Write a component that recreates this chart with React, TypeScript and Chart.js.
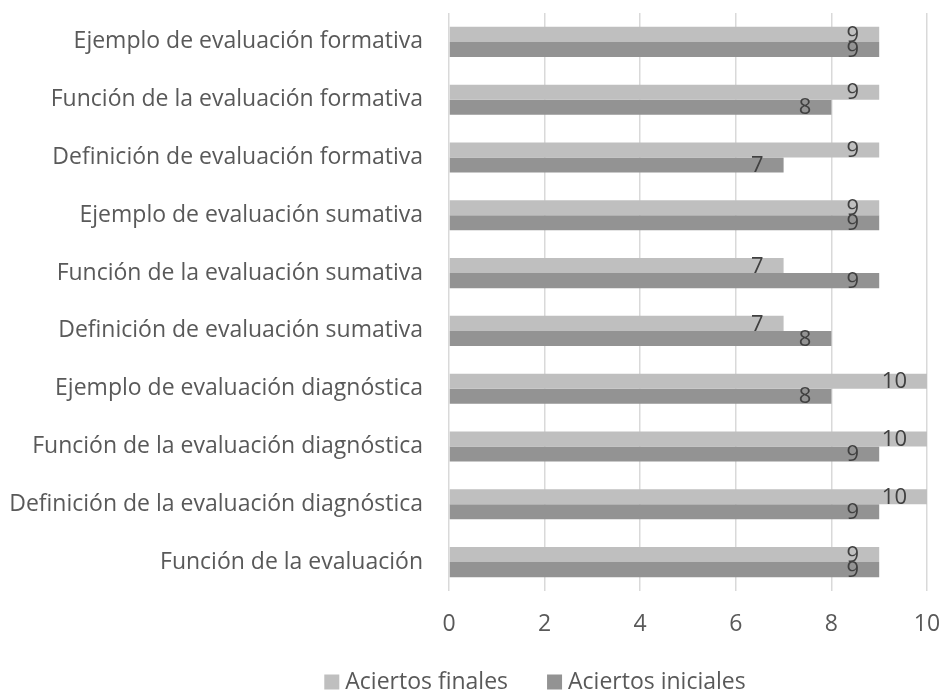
import React, { useEffect, useRef } from "react";
import { Chart, registerables } from "chart.js";

Chart.register(...registerables);

const categories = [
  "Ejemplo de evaluación formativa",
  "Función de la evaluación formativa",
  "Definición de evaluación formativa",
  "Ejemplo de evaluación sumativa",
  "Función de la evaluación sumativa",
  "Definición de evaluación sumativa",
  "Ejemplo de evaluación diagnóstica",
  "Función de la evaluación diagnóstica",
  "Definición de la evaluación diagnóstica",
  "Función de la evaluación",
];
const seriesNames = ["Aciertos finales", "Aciertos iniciales"];
const aciertosFinales = [9, 9, 9, 9, 7, 7, 10, 10, 10, 9];
const aciertosIniciales = [9, 8, 7, 9, 9, 8, 8, 9, 9, 9];
const xTicks = [0, 2, 4, 6, 8, 10];

const FONT = "'Open Sans', sans-serif";
const TEXT = "#595959";
const COLORS = ["#bfbfbf", "#939393"];

const valueLabels = {
  id: "valueLabels",
  afterDatasetsDraw(chart: any) {
    const ctx = chart.ctx;
    ctx.save();
    ctx.font = `22px ${FONT}`;
    ctx.fillStyle = "#404040";
    ctx.textAlign = "right";
    ctx.textBaseline = "middle";
    chart.data.datasets.forEach((ds: any, i: number) => {
      const meta = chart.getDatasetMeta(i);
      meta.data.forEach((el: any, j: number) => {
        ctx.fillText(String(ds.data[j]), el.x - 20, el.y + 1);
      });
    });
    ctx.restore();
  },
};

const bottomLegend = {
  id: "bottomLegend",
  afterDraw(chart: any) {
    const ctx = chart.ctx;
    ctx.save();
    ctx.font = `23px ${FONT}`;
    ctx.textBaseline = "middle";
    ctx.textAlign = "left";
    const box = 15;
    const gapBoxText = 6;
    const gapItems = 39;
    const items = chart.data.datasets.map((ds: any) => ({
      text: ds.label,
      color: ds.backgroundColor,
      w: ctx.measureText(ds.label).width,
    }));
    const total =
      items.reduce((a: number, it: any) => a + box + gapBoxText + it.w, 0) +
      gapItems * (items.length - 1);
    const cx = 535;
    const cy = 682;
    let x = cx - total / 2;
    items.forEach((it: any) => {
      ctx.fillStyle = it.color;
      ctx.fillRect(x, cy - box / 2, box, box);
      x += box + gapBoxText;
      ctx.fillStyle = TEXT;
      ctx.fillText(it.text, x, cy);
      x += it.w + gapItems;
    });
    ctx.restore();
  },
};

export default function App() {
  const ref = useRef<HTMLCanvasElement>(null);
  useEffect(() => {
    document.body.style.margin = "0";
    const chart = new Chart(ref.current!, {
      type: "bar",
      data: {
        labels: categories,
        datasets: [
          {
            label: seriesNames[0],
            data: aciertosFinales,
            backgroundColor: COLORS[0],
            categoryPercentage: 0.52,
            barPercentage: 1,
          },
          {
            label: seriesNames[1],
            data: aciertosIniciales,
            backgroundColor: COLORS[1],
            categoryPercentage: 0.52,
            barPercentage: 1,
          },
        ],
      },
      options: {
        indexAxis: "y",
        animation: false,
        responsive: false,
        maintainAspectRatio: false,
        layout: { padding: { top: 13, right: 18, bottom: 61, left: 0 } },
        plugins: {
          tooltip: { enabled: false },
          legend: { display: false },
        },
        scales: {
          x: {
            min: 0,
            max: 10,
            afterBuildTicks: (s: any) => {
              s.ticks = xTicks.map((v) => ({ value: v }));
            },
            grid: { color: "#d9d9d9", lineWidth: 1.5, drawTicks: false },
            border: { display: false },
            ticks: {
              font: { family: FONT, size: 23 },
              color: TEXT,
              padding: 20,
              maxRotation: 0,
            },
            afterFit: (s: any) => {
              s.height = 40;
              s.paddingLeft = 0;
              s.paddingRight = 0;
            },
          },
          y: {
            grid: { display: false, drawTicks: false },
            border: { display: false },
            ticks: {
              font: { family: FONT, size: 23 },
              color: TEXT,
              padding: 26,
            },
            afterFit: (s: any) => {
              s.width = 449;
              s.paddingTop = 0;
              s.paddingBottom = 0;
            },
          },
        },
      },
      plugins: [valueLabels, bottomLegend],
    });
    return () => chart.destroy();
  }, []);
  return (
    <div style={{ width: 945, height: 692 }}>
      <canvas ref={ref} width={945} height={692} />
    </div>
  );
}
